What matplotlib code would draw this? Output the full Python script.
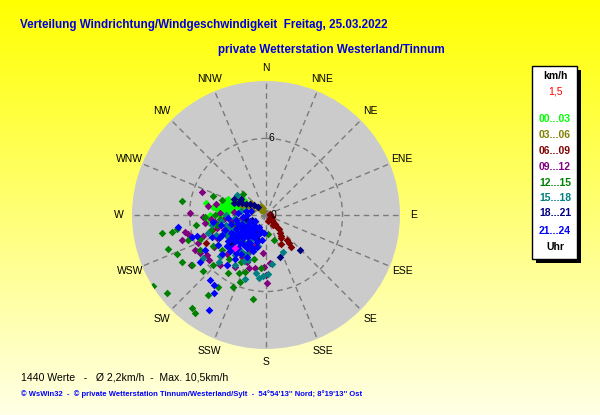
import numpy as np
import matplotlib
matplotlib.use('Agg')
import matplotlib.pyplot as plt
from matplotlib.patches import Rectangle

compass = ['N', 'NNE', 'NE', 'ENE', 'E', 'ESE', 'SE', 'SSE',
           'S', 'SSW', 'SW', 'WSW', 'W', 'WNW', 'NW', 'NNW']
hour_labels = ['00...03', '03...06', '06...09', '09...12',
               '12...15', '15...18', '18...21', '21...24']
hour_colors = ['#00ff00', '#808000', '#800000', '#800080',
               '#008000', '#008080', '#000080', '#0000ff']

# wind direction (deg) / speed (km/h) per 3 hour block
dir_00 = [280, 284, 288, 276, 272, 292, 296, 300, 279, 283, 287, 270, 266, 263, 290,
          295, 278, 282, 274, 286, 299, 303, 281, 277, 285, 268, 293, 289, 275, 297,
          283, 279, 291, 287, 273]
spd_00 = [3.0, 2.6, 2.4, 3.4, 3.8, 2.2, 2.0, 1.9, 4.2, 3.6, 3.1, 4.4, 4.7, 4.6, 2.8,
          2.5, 2.7, 2.0, 3.0, 1.8, 2.6, 2.1, 4.8, 3.9, 3.3, 3.5, 3.2, 2.3, 2.5, 1.7,
          2.9, 3.5, 2.6, 2.1, 3.3]

dir_03 = [297, 305, 311, 315, 320, 290, 300, 325, 308, 285, 340, 330]
spd_03 = [1.4, 1.2, 0.9, 0.5, 0.7, 2.0, 1.7, 0.4, 1.5, 1.1, 0.6, 0.8]

dir_06 = [127, 135, 138, 142, 147, 153, 140, 141, 142, 130, 110, 95, 70, 160, 145,
          250, 240, 262, 228, 255, 245, 235, 133, 139, 144]
spd_06 = [0.4, 0.8, 1.2, 1.8, 2.15, 2.55, 2.55, 2.85, 3.2, 0.6, 0.5, 0.35, 0.3, 0.5, 1.0,
          2.5, 3.2, 2.0, 3.8, 4.4, 5.2, 1.5, 1.0, 1.5, 2.0]

dir_09 = [271.5, 258, 253.4, 256, 247.6, 262.5, 268, 266, 272.5, 243.8, 240, 236, 222.6,
          210.8, 198, 191.7, 179, 180, 182, 236.3, 231.7, 250, 240, 230, 260, 220, 205,
          245, 255, 215, 235, 265, 200, 225, 185, 210, 248, 275, 283, 290, 279, 175,
          228, 238, 218, 252, 244, 212, 202, 262, 233, 258]
spd_09 = [5.96, 6.5, 6.87, 6.3, 5.77, 4.8, 4.95, 4.3, 3.6, 6.2, 6.0, 5.6, 5.33,
          4.74, 4.4, 4.24, 5.33, 4.7, 4.1, 7.06, 5.7, 3.5, 3.0, 2.6, 2.8, 3.4, 3.2,
          4.2, 4.0, 2.2, 2.0, 3.3, 2.6, 4.3, 3.0, 3.8, 2.4, 2.5, 4.0, 5.3, 4.6, 3.8,
          3.6, 4.8, 5.0, 5.2, 3.3, 2.9, 4.0, 4.0, 2.6, 2.0]

dir_12 = [279.5, 260.2, 259.7, 261, 250.9, 246.3, 237.9, 231.8, 218.5, 215.9, 188.8,
          213.7, 201.2, 204.6, 216, 240.8, 235.9, 226.7, 213.2, 200, 289.7, 312.4,
          288.8, 268, 255, 162, 175, 245, 230, 220, 250, 240, 262, 225, 210, 255, 235,
          195, 265, 242, 228, 208, 252, 270, 205, 185, 232, 248, 222, 258, 238]
spd_12 = [6.7, 8.27, 7.49, 7.06, 8.13, 7.62, 10.46, 9.88, 9.31, 9.48, 6.66,
          6.78, 5.63, 6.2, 7.75, 7.54, 7.0, 5.7, 5.43, 4.76, 4.37, 2.44,
          3.64, 4.8, 4.5, 2.06, 1.5, 3.5, 3.8, 4.5, 5.5, 4.8, 5.5, 2.8, 3.5, 2.5, 3.0,
          3.6, 3.6, 5.9, 6.6, 4.2, 6.4, 4.0, 5.0, 4.2, 4.4, 3.0, 3.6, 3.9, 2.6]

dir_15 = [304.6, 252.8, 155, 173, 186.3, 183, 178, 190, 235.7, 262, 250, 240, 230, 220,
          210, 245, 255, 235, 225, 215, 200, 260, 270, 248, 238, 228, 205, 195, 265,
          242, 218, 280, 232, 252, 212, 225, 198, 236, 244, 226, 214, 206, 256, 222,
          232, 248, 240, 218, 202, 229]
spd_15 = [2.76, 4.76, 3.2, 3.87, 4.97, 4.8, 4.6, 4.6, 5.98, 3.6, 3.0, 2.6, 3.2, 2.8,
          2.2, 4.0, 2.2, 1.8, 3.9, 3.4, 3.0, 4.3, 3.1, 3.5, 4.4, 4.8, 4.0, 2.5, 2.4,
          1.5, 1.6, 2.0, 2.3, 1.8, 4.6, 5.2, 5.3, 2.9, 2.8, 2.4, 2.6, 3.4, 3.2, 3.6,
          3.9, 4.2, 3.4, 4.0, 3.8, 1.9]

dir_18 = [293, 297, 300, 305, 310, 315, 290, 136, 162, 240, 225, 250, 210, 230, 200, 260,
          302, 296, 235, 218]
spd_18 = [2.4, 2.1, 1.8, 1.5, 1.2, 0.9, 2.7, 3.8, 3.5, 2.0, 2.5, 1.2, 1.5, 3.5, 2.0, 1.6,
          2.3, 2.8, 2.9, 2.9]

dir_21 = [211, 220.7, 216.6, 213.7, 262.2, 253.4, 253.1, 240.2, 234.5,
          230, 235, 240, 245, 250, 225, 220, 215, 210, 205, 200, 195, 255, 260, 265,
          270, 240, 230, 220, 210, 250, 245, 235, 225, 215, 205, 230, 240, 220, 250,
          210, 200, 195, 258, 265, 275, 280, 285, 262, 228, 238, 248, 218, 190, 185,
          232, 242, 252, 212, 222, 227, 233, 237, 243, 247, 223, 217, 213, 207, 203,
          198, 236, 226, 244, 214, 204, 232, 238, 228, 218, 208]
spd_21 = [8.7, 6.7, 6.8, 7.35, 6.96, 6.05, 5.65, 5.5, 6.35,
          2.0, 2.4, 2.2, 2.6, 2.0, 2.6, 2.2, 1.8, 2.5, 2.0, 1.6, 1.4, 2.8, 2.4, 1.8,
          1.5, 3.0, 3.2, 3.4, 3.0, 3.4, 3.8, 3.6, 4.0, 4.2, 3.6, 1.2, 1.0, 1.4, 1.3,
          1.1, 3.0, 2.6, 3.6, 3.0, 2.2, 1.6, 1.2, 4.2, 4.6, 4.4, 4.6, 5.0, 2.0, 1.4,
          2.8, 1.6, 2.3, 2.6, 3.0, 2.3, 2.9, 3.3, 3.1, 2.2, 1.9, 2.9, 3.6, 2.7, 1.3,
          2.2, 1.7, 3.7, 4.1, 2.0, 2.8, 3.9, 2.6, 1.6, 3.8, 1.9]

last_dir = [223]
last_spd = [3.55]

directions = [dir_00, dir_03, dir_06, dir_09, dir_12, dir_15, dir_18, dir_21]
speeds = [spd_00, spd_03, spd_06, spd_09, spd_12, spd_15, spd_18, spd_21]
r_max = 10.5

W, H = 600, 415
fig = plt.figure(figsize=(W / 100, H / 100), dpi=100)

# yellow background, fading downwards
bg = fig.add_axes([0, 0, 1, 1], zorder=-5)
fade = np.linspace(0, 0.9, 256)
img = np.ones((256, 2, 3))
img[:, :, 2] = fade[:, None]
bg.imshow(img, aspect='auto', extent=[0, 1, 0, 1])
bg.axis('off')

cx, cy, rad = 266, 215, 134
ax = fig.add_axes([(cx - rad) / W, (H - cy - rad) / H, 2 * rad / W, 2 * rad / H],
                  projection='polar')
ax.set_theta_zero_location('N')
ax.set_theta_direction(-1)
ax.set_facecolor('#cbcbcb')
ax.spines['polar'].set_visible(False)
ax.set_ylim(0, r_max)
ax.set_rticks([6])
ax.set_yticklabels([])
ax.set_xticks(np.radians(np.arange(0, 360, 22.5)))
ax.set_xticklabels([])
ax.grid(True, color='#7a7a7a', linestyle=(0, (4, 3)), linewidth=1)
ax.tick_params(length=0)

for d, s, c in zip(directions, speeds, hour_colors):
    ax.scatter(np.radians(d), s, marker='D', s=15, color=c, linewidths=0, zorder=3)
ax.scatter(np.radians(last_dir), last_spd, marker='D', s=15, color='#ff00ff',
           linewidths=0, zorder=4)

for i, name in enumerate(compass):
    ax.text(np.radians(i * 22.5), 11.55, name, ha='center', va='center',
            fontsize=7.5, family='Liberation Sans', clip_on=False)
ax.annotate('6', (0, 6), xytext=(2, 0), textcoords='offset points',
            ha='left', va='center', fontsize=7.5, family='Liberation Sans')
ax.annotate('0', (0, 0), xytext=(3, 0), textcoords='offset points',
            ha='left', va='center', fontsize=7.5, family='Liberation Sans', zorder=5)

title_font = ['Liberation Sans Narrow', 'Liberation Sans']
fig.text(20 / W, 1 - 25 / H,
         'Verteilung Windrichtung/Windgeschwindigkeit  Freitag, 25.03.2022',
         ha='left', va='center', fontsize=8.4, fontweight='bold',
         color='#0000e0', family=title_font)
fig.text(218 / W, 1 - 50 / H, 'private Wetterstation Westerland/Tinnum',
         ha='left', va='center', fontsize=8.4, fontweight='bold',
         color='#0000e0', family=title_font)

fig.text(21 / W, 1 - 377 / H,
         '1440 Werte   -   \u00d8 2,2km/h  -  Max. 10,5km/h',
         ha='left', va='center', fontsize=7.6, family='Liberation Sans')
fig.text(21 / W, 1 - 394 / H,
         '\u00a9 WsWin32  -  \u00a9 private Wetterstation Tinnum/Westerland/Sylt  -  '
         "54\u00b054'13'' Nord; 8\u00b019'13'' Ost",
         ha='left', va='center', fontsize=5.5, fontweight='bold', color='#0000ff',
         family='Liberation Sans')

# legend box with shadow
bx0, by0, bx1, by1 = 532, 66, 577, 259
fig.patches.append(Rectangle(((bx0 + 4) / W, (H - by1 - 4) / H), (bx1 - bx0) / W,
                             (by1 - by0) / H, transform=fig.transFigure,
                             facecolor='black', edgecolor='none', zorder=1))
fig.patches.append(Rectangle((bx0 / W, (H - by1) / H), (bx1 - bx0) / W,
                             (by1 - by0) / H, transform=fig.transFigure,
                             facecolor='white', edgecolor='black', linewidth=1, zorder=2))
lx = 555 / W
fig.text(lx, 1 - 76 / H, 'km/h', ha='center', va='center', fontsize=7.5,
         fontweight='bold', family='Liberation Sans', zorder=3)
fig.text(lx, 1 - 92 / H, '1,5', ha='center', va='center', fontsize=7.5,
         color='red', family='Liberation Sans', zorder=3)
label_y = [119, 135, 151, 167, 183, 198, 213, 231]
for lab, c, y in zip(hour_labels, hour_colors, label_y):
    fig.text(lx, 1 - y / H, lab, ha='center', va='center', fontsize=7.5,
             fontweight='bold', color=c, family='Liberation Sans', zorder=3)
fig.text(lx, 1 - 247 / H, 'Uhr', ha='center', va='center', fontsize=7.5,
         fontweight='bold', family='Liberation Sans', zorder=3)

fig.savefig('out.png', dpi=100)
